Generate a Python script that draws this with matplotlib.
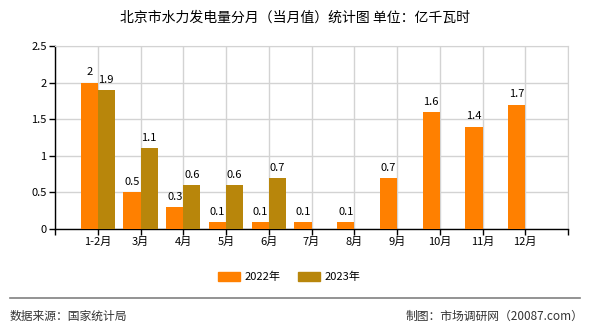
import matplotlib
matplotlib.use("Agg")
import matplotlib.pyplot as plt
import numpy as np

plt.rcParams['font.family'] = ['Noto Sans CJK SC', 'DejaVu Sans']

categories = ["1-2月", "3月", "4月", "5月", "6月", "7月", "8月", "9月", "10月", "11月", "12月"]
values_2022 = [2, 0.5, 0.3, 0.1, 0.1, 0.1, 0.1, 0.7, 1.6, 1.4, 1.7]
values_2023 = [1.9, 1.1, 0.6, 0.6, 0.7, None, None, None, None, None, None]
series_names = ["2022年", "2023年"]
yticks = [0, 0.5, 1, 1.5, 2, 2.5]
ytick_labels = ["0", "0.5", "1", "1.5", "2", "2.5"]

title = "北京市水力发电量分月（当月值）统计图 单位：亿千瓦时"
source = "数据来源：国家统计局"
maker = "制图：市场调研网（20087.com）"

c2022 = "#FF8000"
c2023 = "#B8860B"

fig = plt.figure(figsize=(5.9, 3.3), dpi=100)
ax = fig.add_axes([55/590, (330-229)/330, (568-55)/590, (229-46)/330])

x = np.arange(len(categories))
w = 0.4
v22 = np.array(values_2022, dtype=float)
v23 = np.array([np.nan if v is None else v for v in values_2023], dtype=float)
ax.bar(x - w/2, v22, width=w, color=c2022, label=series_names[0], zorder=3)
m = ~np.isnan(v23)
ax.bar(x[m] + w/2, v23[m], width=w, color=c2023, label=series_names[1], zorder=3)

for xi, v in zip(x, v22):
    ax.text(xi - w/2, v + 0.07, f"{v:g}", ha="center", va="bottom", fontsize=8, zorder=4)
for xi, v in zip(x[m], v23[m]):
    ax.text(xi + w/2, v + 0.07, f"{v:g}", ha="center", va="bottom", fontsize=8, zorder=4)

ax.set_xlim(-1, len(categories))
ax.set_ylim(0, 2.5)
ax.set_yticks(yticks)
ax.set_yticklabels(ytick_labels, fontsize=8)
ax.set_xticks(np.arange(-1, len(categories) + 1))
ax.set_xticklabels([""] + categories + [""], fontsize=8)
ax.tick_params(axis='both', length=4, width=1, color='black', pad=2)

ax.grid(True, color="#d3d3d3", linewidth=1, zorder=0)
ax.set_axisbelow(True)
for s in ["top", "right"]:
    ax.spines[s].set_color("#d3d3d3")
for s in ["left", "bottom"]:
    ax.spines[s].set_color("black")
    ax.spines[s].set_linewidth(1)

fig.text(0.5, 1 - 18/330, title, ha="center", va="center", fontsize=10)

handles = [plt.Rectangle((0, 0), 1, 1, color=c2022), plt.Rectangle((0, 0), 1, 1, color=c2023)]
fig.legend(handles, series_names, loc="center", bbox_to_anchor=(0.49, 1 - 277/330), ncol=2,
           frameon=False, fontsize=8, handlelength=2.0, handleheight=0.8, columnspacing=1.6, handletextpad=0.4)

fig.add_artist(plt.Line2D([10/590, 580/590], [1 - 298/330, 1 - 298/330], color="#808080", linewidth=1.2))
fig.text(10/590, 1 - 316/330, source, ha="left", va="center", fontsize=8.5, color="#333333")
fig.text(583/590, 1 - 316/330, maker, ha="right", va="center", fontsize=8.5, color="#333333")

fig.savefig("out.png", dpi=100)
